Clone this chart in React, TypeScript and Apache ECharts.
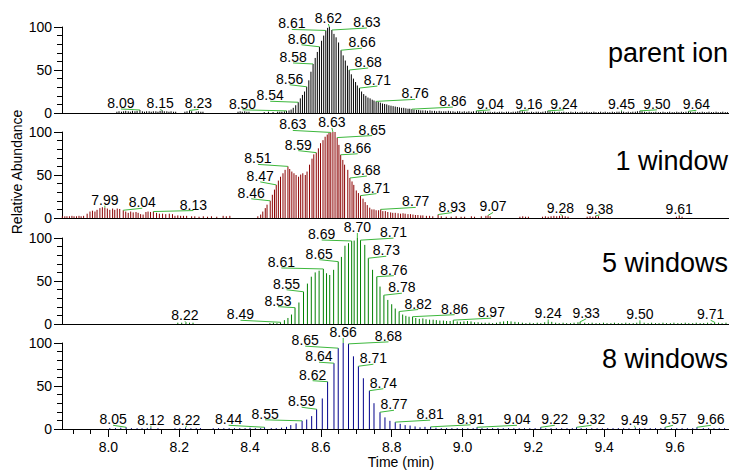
import React, { useEffect, useRef } from "react";
import * as echarts from "echarts";

const FONT = "'Liberation Sans', Arial, Helvetica, sans-serif";

// ---------- data: [retention time (min), relative abundance (%)] ----------
const parentIon: number[][] = [
  [8.024,1.5],[8.030,2],[8.037,1.5],[8.043,2],[8.049,2.5],[8.056,2],[8.062,1.5],[8.068,2.5],[8.075,2],[8.081,2.5],[8.089,3.5],[8.096,2],[8.102,1.5],[8.108,2],[8.115,2],[8.121,1.5],[8.127,2],[8.134,2],[8.140,1.5],[8.146,2.5],[8.152,3],[8.158,2],[8.165,2],[8.171,1.5],[8.177,2],[8.184,1.5],[8.190,1.5],[8.216,1.5],[8.222,2],[8.229,3],[8.235,2],[8.248,1.5],[8.254,2],[8.261,1.5],[8.267,1.5],[8.366,1.5],[8.372,2],[8.378,1.5],[8.385,2],[8.391,1.5],[8.397,1.5],[8.440,1],[8.452,1.5],[8.465,1],[8.478,1.5],[8.484,1.5],[8.490,1.5],[8.497,2],
  [8.503,2.5],[8.510,3],[8.516,4],[8.522,6],[8.529,9],[8.536,12.5],[8.542,17],[8.548,21],[8.554,25],[8.560,30.5],[8.566,38],[8.572,48],[8.578,57],[8.584,64],[8.590,71],[8.596,77],[8.602,84],[8.608,90],[8.614,96],[8.619,99],[8.624,100],[8.631,96.5],[8.637,92],[8.643,88],[8.650,82],[8.657,73],[8.663,67],[8.669,61],[8.675,55],[8.680,50],[8.686,45],[8.692,40],[8.698,36],[8.703,32],[8.709,29],[8.715,25],[8.721,22],[8.727,20],[8.733,18],[8.739,17],[8.745,15.5],[8.750,14.5],[8.756,13.5],[8.762,13],[8.768,12],[8.774,11],[8.780,10.5],[8.786,10],[8.792,9],[8.798,8.5],[8.804,8],[8.810,7.5],[8.816,7],[8.822,6.5],[8.828,6],[8.834,6],[8.840,5.5],[8.846,5],[8.851,5],[8.857,4.5],[8.863,4],[8.870,3.5],[8.876,3.5],[8.882,3],[8.888,3],[8.895,3],
  [8.901,2.5],[8.908,3],[8.914,2.5],[8.921,2.5],[8.927,2],[8.934,2.5],[8.940,2],[8.947,2],[8.953,2],[8.960,2.5],[8.966,2],[8.973,2],[8.979,1.5],[8.986,2],[8.992,2],[8.999,1.5],[9.005,2],[9.012,1.5],[9.018,2],[9.025,1.5],[9.031,2],[9.039,2.5],[9.046,2],[9.052,1.5],[9.059,2],[9.065,1.5],[9.072,1.5],[9.078,1.5],[9.085,1],[9.091,1.5],[9.098,1],[9.104,1.5],[9.111,1.5],[9.117,1],[9.124,1.5],[9.130,1.5],[9.137,1],[9.143,1.5],[9.150,1.5],[9.156,2],[9.162,2.5],[9.169,2],[9.175,1.5],[9.182,1.5],[9.188,1],[9.195,1.5],[9.201,1],[9.208,1.5],[9.214,1.5],[9.221,1],[9.227,1.5],[9.234,2],[9.241,2.5],[9.247,2],[9.254,1.5],[9.260,1.5],[9.267,1],[9.273,1.5],[9.280,1],[9.286,1.5],[9.293,1],[9.299,1],[9.306,1.5],[9.312,1],[9.319,1.5],[9.325,1],[9.332,1],[9.338,1.5],[9.345,1],[9.351,1.5],[9.358,1],[9.364,1],[9.371,1.5],[9.377,1],[9.384,1],[9.390,1.5],[9.397,1],[9.403,1.5],[9.410,1],[9.416,1],[9.423,1.5],[9.429,1],[9.436,1.5],[9.442,1.5],[9.449,2],[9.455,1.5],[9.462,1],[9.468,1.5],[9.475,1],[9.481,1.5],[9.488,1.5],[9.494,2],[9.501,2.5],[9.507,2],[9.514,1.5],[9.520,1],[9.527,1.5],[9.533,1],[9.540,1],[9.546,1.5],[9.553,1],[9.559,1],[9.566,1.5],[9.572,1],[9.579,1],[9.585,1.5],[9.592,1],[9.598,1],[9.605,1.5],[9.611,1],[9.618,1.5],[9.624,1],[9.631,1.5],[9.638,2],[9.644,1.5],[9.651,1],[9.657,1.5],[9.664,1],[9.670,1],[9.677,1.5],[9.683,1],[9.690,1],[9.696,1.5],[9.703,1],[9.709,1],[9.716,1.5],[9.722,1],[9.729,1],[9.735,1.5],[9.742,1],[9.748,1]
];

const oneWindow: number[][] = [
  [7.870,2],[7.877,2],[7.883,2],[7.890,2],[7.897,2.5],[7.903,2],[7.910,2],[7.917,2.5],[7.923,2],[7.930,2.5],[7.940,5],[7.948,7.5],[7.955,8.5],[7.962,7.5],[7.968,9.5],[7.976,11.5],[7.983,12.5],[7.990,12],[7.997,11],[8.004,9.5],[8.012,11],[8.018,9.5],[8.025,11],[8.032,10.5],[8.042,9],[8.049,7.5],[8.056,6],[8.063,7.5],[8.070,6.5],[8.078,7],[8.084,6],[8.091,4.5],[8.098,4],[8.106,7],[8.112,7.5],[8.119,7],[8.127,7.5],[8.136,6],[8.144,5],[8.153,5],[8.162,4.5],[8.172,5],[8.181,4.5],[8.188,2.5],[8.196,3],[8.204,2.5],[8.212,2.5],[8.221,2.5],[8.235,2],[8.244,2],[8.256,1.5],[8.268,2],[8.280,1.5],[8.291,2],[8.306,1.5],[8.324,2.5],[8.333,2],[8.343,2.5],
  [8.422,2],[8.430,4],[8.436,7.5],[8.443,11.5],[8.448,15.5],[8.457,20],[8.463,27],[8.469,33],[8.474,38.5],[8.480,43.5],[8.486,48],[8.493,52],[8.499,56],[8.507,60],[8.512,57],[8.518,54],[8.524,52],[8.530,50],[8.537,48],[8.543,50.5],[8.549,52],[8.556,50],[8.561,54],[8.568,62],[8.575,69],[8.580,74],[8.587,76],[8.593,81],[8.599,87],[8.606,90.5],[8.612,94.5],[8.618,97],[8.623,99],[8.628,99.5],[8.634,100],[8.640,100],[8.646,93.5],[8.651,85],[8.656,73.5],[8.662,67.5],[8.667,62],[8.676,56],[8.682,46.5],[8.688,42.5],[8.693,38.5],[8.700,32],[8.706,29],[8.712,26],[8.719,22.5],[8.725,18.5],[8.731,15],[8.738,12],[8.744,10],[8.750,10],[8.756,9],[8.763,9],[8.769,10],[8.775,8],[8.782,8],[8.789,7],[8.797,6.5],[8.803,6],[8.810,6],[8.818,5.5],[8.825,5],[8.832,5.5],[8.838,5],[8.846,4.5],[8.853,4.5],[8.860,4],[8.867,3.5],[8.874,3.5],[8.882,3],[8.888,3],[8.898,2.5],[8.907,2.5],[8.916,2],[8.931,4],[8.940,2],[8.954,1.5],[8.968,1.5],[8.982,2],[8.996,1.5],[9.006,1.5],[9.025,2],[9.034,1.5],[9.053,2],[9.066,2.5],[9.072,3],[9.078,2],
  [9.162,1.5],[9.170,2],[9.178,1.5],[9.186,1.5],[9.226,1.5],[9.234,2],[9.242,1.5],[9.250,2],[9.258,2.5],[9.266,2],[9.274,2.5],[9.282,3],[9.290,2],[9.298,1.5],[9.352,1.5],[9.360,2],[9.368,1.5],[9.376,2.5],[9.384,2],[9.604,1.5],[9.612,2.5],[9.620,1.5]
];

const fiveWindows: number[][] = [
  [8.196,1.5],[8.207,1.5],[8.219,2],[8.229,1.5],[8.239,1.5],[8.456,1],[8.466,1.5],[8.476,1],
  [8.486,2],[8.497,4.5],[8.507,7],[8.517,11],[8.527,19],[8.538,25],[8.551,37.5],[8.562,47],[8.573,55],[8.584,60],[8.595,62],[8.607,64],[8.616,59],[8.625,57],[8.636,63],[8.649,72.5],[8.658,78],[8.668,91],[8.678,94],[8.687,96.5],[8.694,97],[8.703,100],[8.712,97.5],[8.724,92],[8.734,76.5],[8.746,63],[8.758,55],[8.767,43.5],[8.778,33.5],[8.789,28],[8.800,23],[8.810,18],[8.821,14.5],[8.831,11],[8.840,9.5],[8.849,8.5],[8.859,8.5],[8.868,7],[8.878,6],[8.888,6.5],[8.897,5.5],[8.907,5],[8.917,5],[8.926,4.5],[8.936,4],[8.946,4],[8.955,3.5],[8.965,3.5],[8.974,4.5],[8.985,3],[8.994,2.5],[9.004,3],[9.014,3.5],[9.024,3],[9.034,2],[9.044,2],
  [9.054,1.5],[9.064,1.5],[9.075,1.5],[9.085,1],[9.096,1.5],[9.106,2.5],[9.116,3],[9.127,3.5],[9.137,3],[9.148,2.5],[9.158,2],[9.169,1.5],[9.179,1],[9.190,1.5],[9.200,1],[9.211,1.5],[9.221,1],[9.232,2],[9.242,3],[9.252,2.5],[9.263,1.5],[9.273,1],[9.284,1.5],[9.294,1],[9.305,1],[9.315,1.5],[9.326,2],[9.332,2.5],[9.345,1.5],[9.356,1],[9.366,1.5],[9.377,1],[9.387,1],[9.398,1.5],[9.408,1],[9.419,1],[9.429,1.5],[9.440,1],[9.450,1],[9.461,1.5],[9.471,1],[9.482,1],[9.492,1.5],[9.501,2],[9.513,1.5],[9.524,1],[9.534,1.5],[9.545,1],[9.555,1],[9.566,1.5],[9.576,1],[9.587,1],[9.597,1.5],[9.608,1],[9.618,1],[9.629,1.5],[9.639,1],[9.650,1],[9.660,1.5],[9.671,1],[9.681,1],[9.692,1.5],[9.702,1],[9.712,2],[9.723,1.5],[9.733,1],[9.744,1.5]
];

const eightWindows: number[][] = [
  [8.004,1],[8.020,1],[8.035,1.5],[8.050,2],[8.065,1],[8.081,1],[8.095,1],[8.110,1],[8.120,1.5],[8.140,1],[8.188,1],[8.202,1],[8.218,1.5],[8.233,1],[8.248,1],[8.260,1],[8.296,1],[8.311,1],[8.326,1],[8.341,1],[8.356,1],[8.371,1],[8.386,1],[8.400,1.5],[8.415,1],[8.430,1],[8.441,2],[8.460,1],[8.474,1],[8.489,1.5],
  [8.503,2.5],[8.515,4.5],[8.530,6.5],[8.547,9.5],[8.560,11],[8.574,15],[8.588,23],[8.604,35.5],[8.619,55],[8.637,76.5],[8.649,94],[8.663,100],[8.678,99],[8.692,84.5],[8.706,73],[8.720,59],[8.737,44.5],[8.750,30],[8.767,19.5],[8.781,13.5],[8.795,9.5],[8.810,8],[8.824,6],[8.838,4.5],[8.852,4],[8.866,3],[8.880,2],[8.894,2.5],[8.910,2.5],[8.925,1.5],
  [8.940,1],[8.955,1],[8.970,1],[8.985,1],[9.000,1],[9.015,1],[9.030,1],[9.041,2],[9.055,1],[9.070,1],[9.085,1],[9.100,1],[9.115,1],[9.130,1],[9.145,1],[9.160,1],[9.175,1],[9.190,1],[9.205,1],[9.221,2],[9.235,1],[9.250,1],[9.265,1],[9.280,1],[9.295,1],[9.310,1],[9.322,2],[9.335,1],[9.350,1],[9.365,1],[9.380,1],[9.395,1],[9.410,1],[9.425,1],[9.440,1],[9.455,1],[9.470,1],[9.488,1.5],[9.500,1],[9.515,1],[9.530,1],[9.545,1],[9.560,1],[9.572,2],[9.590,1],[9.605,1],[9.620,1],[9.635,1],[9.650,1],[9.662,2],[9.680,1],[9.695,1],[9.710,1],[9.725,1],[9.740,1]
];

// labelled peaks (retention times that carry a label)
const parentIonLabels = [8.089,8.152,8.229,8.503,8.536,8.560,8.578,8.596,8.614,8.624,8.631,8.657,8.680,8.709,8.756,8.857,9.039,9.162,9.241,9.449,9.501,9.638];
const oneWindowLabels = [7.990,8.042,8.127,8.457,8.474,8.507,8.587,8.628,8.634,8.646,8.656,8.682,8.712,8.769,8.931,9.072,9.282,9.376,9.612];
const fiveWindowsLabels = [8.219,8.486,8.527,8.551,8.607,8.649,8.687,8.703,8.712,8.734,8.758,8.778,8.821,8.859,8.974,9.242,9.332,9.501,9.712];
const eightWindowsLabels = [8.050,8.120,8.218,8.441,8.547,8.588,8.619,8.637,8.649,8.663,8.678,8.706,8.737,8.767,8.810,8.910,9.041,9.221,9.322,9.488,9.572,9.662];

// label placement (pixel offset of the label anchor from the peak top) - layout only
const parentIonLabelOffsets = [[-19,-1],[-2,-1],[9,-1],[-44,-1],[-28,-1],[-17,-2],[-20,-1],[-18,-2],[-34,-1],[-1,-3],[35,-2],[21,-2],[19,-2],[18,-2],[39,-2],[41,-2],[14,-1],[9,-1],[16,-1],[0,-1],[17,-1],[8,-1]];
const oneWindowLabelOffsets = [[0,-2],[19,-2],[40,-1],[-19,-2],[-16,-3],[-30,-2],[-18,-2],[-38,-2],[-1,-4],[35,-2],[17,-1],[17,-2],[16,-2],[35,-2],[14,-2],[5,-3],[-2,-1],[4,-1],[0,-1]];
const fiveWindowsLabelOffsets = [[-1,-1],[-40,-2],[-17,-1],[-17,-2],[-42,-1],[-19,-2],[-30,-1],[0,-5],[33,-2],[18,-2],[17,-1],[18,-2],[19,-2],[42,-2],[38,-2],[0,-2],[6,-3],[0,-2],[-4,-2]];
const eightWindowsLabelOffsets = [[-13,-2],[0,-2],[1,-2],[-36,-2],[-37,-1],[-15,-2],[-15,-1],[-15,-1],[-33,-2],[0,-5],[40,-2],[15,-2],[14,-2],[14,-2],[35,-2],[40,-2],[40,-2],[14,-2],[15,-2],[-1,-2],[8,-2],[14,-2]];

const panelTitles = ["parent ion", "1 window", "5 windows", "8 windows"];
const xMajorTicks = [8.0, 8.2, 8.4, 8.6, 8.8, 9.0, 9.2, 9.4, 9.6];
const xMinorTicks = [7.9,7.95,8.0,8.05,8.1,8.15,8.2,8.25,8.3,8.35,8.4,8.45,8.5,8.55,8.6,8.65,8.7,8.75,8.8,8.85,8.9,8.95,9.0,9.05,9.1,9.15,9.2,9.25,9.3,9.35,9.4,9.45,9.5,9.55,9.6,9.65,9.7];
const xRange = [7.869, 9.7525];
const yRange = [0, 100];

// ---------- layout ----------
const panelColors = ["#000000", "#8b0000", "#008000", "#00008b"];
const leaderColor = "#3db83d";
const panelTops = [27, 132, 238, 343];
const panelHeight = 86;
const titleY = [52.5, 161, 262.5, 359];

export default function App() {
  const ref = useRef<HTMLDivElement>(null);
  useEffect(() => {
    if (!ref.current) return;
    const chart = echarts.init(ref.current, null, { renderer: "svg" });
    const panels = [
      { data: parentIon, labels: parentIonLabels, offsets: parentIonLabelOffsets },
      { data: oneWindow, labels: oneWindowLabels, offsets: oneWindowLabelOffsets },
      { data: fiveWindows, labels: fiveWindowsLabels, offsets: fiveWindowsLabelOffsets },
      { data: eightWindows, labels: eightWindowsLabels, offsets: eightWindowsLabelOffsets },
    ];
    const grids = panels.map((_, i) => ({ left: 62, right: 0, top: panelTops[i], height: panelHeight }));
    const xAxes: any[] = panels.map((_, i) => ({
      type: "value", gridIndex: i, min: xRange[0], max: xRange[1],
      axisLine: { show: true, lineStyle: { color: "#000", width: 1 } },
      axisTick: { show: i === 3, customValues: xMinorTicks, length: 5, lineStyle: { color: "#000" } },
      axisLabel: { show: i === 3, customValues: xMajorTicks, formatter: (v: number) => v.toFixed(1), fontSize: 14, color: "#000", fontFamily: FONT, margin: 11 },
      splitLine: { show: false },
    }));
    xAxes.push({
      type: "value", gridIndex: 3, min: xRange[0], max: xRange[1], position: "bottom",
      axisLine: { show: false },
      axisTick: { show: true, customValues: xMajorTicks, length: 8, lineStyle: { color: "#000" } },
      axisLabel: { show: false }, splitLine: { show: false },
    });
    const yAxes = panels.map((_, i) => ({
      type: "value", gridIndex: i, min: yRange[0], max: yRange[1], interval: 50,
      axisLine: { show: true, lineStyle: { color: "#000", width: 1 } },
      axisTick: { show: true, length: 8, lineStyle: { color: "#000" } },
      minorTick: { show: true, splitNumber: 5, length: 5, lineStyle: { color: "#000" } },
      axisLabel: { fontSize: 14, color: "#000", fontFamily: FONT, margin: 10 },
      splitLine: { show: false },
    }));
    const series: any[] = [];
    panels.forEach((p, i) => {
      const color = panelColors[i];
      series.push({
        type: "custom", xAxisIndex: i, yAxisIndex: i, data: p.data, encode: { x: 0, y: 1 },
        renderItem: (params: any, api: any) => {
          const t = api.value(0), h = api.value(1);
          const b = api.coord([t, 0]);
          const tp = api.coord([t, h]);
          return { type: "line", shape: { x1: b[0], y1: b[1], x2: tp[0], y2: tp[1] }, style: { stroke: color, lineWidth: 1 } };
        },
      });
      const labelData = p.labels.map((t) => {
        const found = p.data.find((d) => d[0] === t);
        return [t, found ? found[1] : 0];
      });
      series.push({
        type: "custom", xAxisIndex: i, yAxisIndex: i, data: labelData, encode: { x: 0, y: 1 }, clip: false, z: 5,
        renderItem: (params: any, api: any) => {
          const t = api.value(0), h = api.value(1);
          const pt = api.coord([t, h]);
          const off = p.offsets[params.dataIndex] || [0, -2];
          const ax = pt[0] + off[0], ay = pt[1] + off[1];
          return {
            type: "group",
            children: [
              { type: "line", shape: { x1: pt[0], y1: pt[1], x2: ax, y2: ay }, style: { stroke: leaderColor, lineWidth: 1 } },
              { type: "text", x: ax, y: ay + 1, style: { text: t.toFixed(2), fontSize: 14, fontFamily: FONT, fill: "#000", align: "center", verticalAlign: "bottom" } },
            ],
          };
        },
      });
    });
    const graphic: any[] = panelTitles.map((title, i) => ({
      type: "text", x: 728, y: titleY[i], z: 10,
      style: { text: title, fontSize: 27, fontFamily: FONT, fill: "#000", align: "right", verticalAlign: "middle" },
    }));
    graphic.push({
      type: "text", x: 17, y: 172, rotation: Math.PI / 2,
      style: { text: "Relative Abundance", fontSize: 14, fontFamily: FONT, fill: "#000", align: "center", verticalAlign: "middle" },
    });
    graphic.push({
      type: "text", x: 401, y: 462,
      style: { text: "Time (min)", fontSize: 14, fontFamily: FONT, fill: "#000", align: "center", verticalAlign: "middle" },
    });
    chart.setOption({
      animation: false,
      backgroundColor: "#ffffff",
      grid: grids,
      xAxis: xAxes,
      yAxis: yAxes,
      series,
      graphic,
    });
    return () => chart.dispose();
  }, []);
  return <div ref={ref} style={{ position: "absolute", left: 0, top: 0, width: 729, height: 473, background: "#fff" }} />;
}
